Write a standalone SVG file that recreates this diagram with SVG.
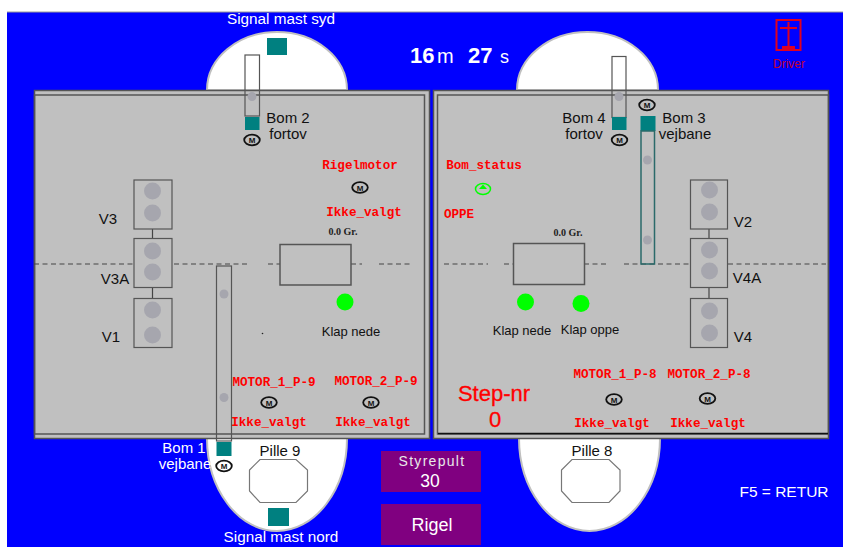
<svg xmlns="http://www.w3.org/2000/svg" xmlns:xlink="http://www.w3.org/1999/xlink" width="843" height="547" viewBox="0 0 843 547">
<style>
text{font-family:"Liberation Sans",Arial,sans-serif}
.w{fill:#fff;font-size:15.3px;text-anchor:middle}
.b{fill:#111;font-size:15px;text-anchor:middle}
.s{fill:#111;font-size:13px;text-anchor:middle}
.r{fill:#f00;font-family:"Liberation Mono","Courier New",monospace;font-size:12.6px;font-weight:bold;text-anchor:middle}
.gr{fill:#222;font-family:"Liberation Serif",serif;font-size:10px;font-weight:bold;text-anchor:middle}
.pier{fill:#fff;stroke:#c0c0c0;stroke-width:2}
.panel{fill:#c0c0c0;stroke:#555;stroke-width:1.5}
.in{fill:none;stroke:#555;stroke-width:1.5}
.sig{fill:#c0c0c0;stroke:#555;stroke-width:1.2}
.lamp{fill:#a6a6ae}
.teal{fill:#008080}
.boom{fill:none;stroke:#555;stroke-width:1.2}
.green{fill:#0f0}
.dash{stroke:#444;stroke-width:1;stroke-dasharray:5 3.5;fill:none}
.oct{fill:#fff;stroke:#777;stroke-width:1.2}
.btn{fill:#800080}
.wire{stroke:#444;stroke-width:1.2}
</style>
<defs>
<g id="mot"><ellipse cx="0" cy="0" rx="7.8" ry="5.3" fill="none" stroke="#111" stroke-width="1.8"/><text x="0" y="3" font-size="8" font-weight="bold" text-anchor="middle" fill="#111">M</text></g>
</defs>
<rect x="0" y="0" width="843" height="547" fill="#fff"/>
<rect x="7" y="12" width="836" height="535" fill="#00f"/>
<line x1="7" y1="12" x2="843" y2="12" stroke="#999" stroke-width="1"/>

<g id="pier-north-left"><path class="pier" d="M207 90A70 58 0 0 1 347 90Z"/></g>
<g id="pier-north-right"><path class="pier" d="M517 90A70.500 58 0 0 1 658 90Z"/></g>
<g id="pier-9"><path class="pier" d="M207 438A70 93 0 0 0 347 438Z"/></g>
<g id="pier-8"><path class="pier" d="M519 438A70.500 93 0 0 0 660 438Z"/></g>

<g id="panel-left"><rect x="34.500" y="90.500" width="395" height="348" class="panel"/><rect x="34.500" y="95" width="390" height="339" class="in"/></g>
<g id="panel-right"><rect x="433.500" y="90.500" width="395" height="348" class="panel"/><rect x="437.500" y="95" width="391" height="339" class="in"/><line x1="438" y1="433.500" x2="828" y2="433.500" stroke="#111" stroke-width="1.500"/></g>

<g id="connectors">
<path class="dash" d="M34 264H134M174 264H250M268 264H280M351 264H362M379 264H413"/>
<path class="dash" d="M444 264H488M504 264H514M584 264H608M624 264H690M728 264H826"/>
<line class="wire" x1="152.500" y1="229" x2="152.500" y2="238"/>
<line class="wire" x1="152.500" y1="288" x2="152.500" y2="298"/>
<line class="wire" x1="709" y1="229" x2="709" y2="238"/>
<line class="wire" x1="709" y1="288" x2="709" y2="298"/>
</g>

<g id="mast-syd"><rect x="267" y="38" width="20" height="17" class="teal"/><text x="281" y="24" class="w">Signal mast syd</text></g>
<g id="mast-nord"><rect x="268" y="508" width="21" height="18" class="teal"/><text x="281" y="542" class="w">Signal mast nord</text></g>
<g id="clock"><text x="410" y="63" fill="#fff" font-size="22" font-weight="bold">16</text><text x="437" y="63" fill="#fff" font-size="20">m</text><text x="468" y="63" fill="#fff" font-size="22" font-weight="bold">27</text><text x="500" y="63" fill="#fff" font-size="18">s</text></g>
<g id="driver" fill="none" stroke="#e00020" stroke-width="2"><rect x="776.500" y="20" width="24" height="30"/><path d="M780 28H797M788.500 22V47"/><path d="M782 48H795" stroke-width="4"/><text x="789" y="68" fill="#c00030" stroke="none" font-size="12" text-anchor="middle">Driver</text></g>

<g id="bom2"><rect x="245" y="55" width="14.500" height="61" class="boom"/><circle cx="252" cy="96.500" r="4.500" class="lamp"/><rect x="245" y="117" width="14.500" height="13" class="teal"/><use xlink:href="#mot" href="#mot" x="252" y="140"/><text x="288" y="123" class="b">Bom 2</text><text x="288" y="139" class="b">fortov</text></g>
<g id="bom4"><rect x="612" y="56.500" width="14" height="61" class="boom"/><circle cx="619" cy="96.500" r="4.500" class="lamp"/><rect x="612" y="117" width="14.500" height="13" class="teal"/><use xlink:href="#mot" href="#mot" x="619.500" y="140"/><text x="584" y="123" class="b">Bom 4</text><text x="584" y="139" class="b">fortov</text></g>
<g id="bom3"><use xlink:href="#mot" href="#mot" x="647" y="105"/><rect x="640.500" y="116" width="15" height="15" class="teal"/><rect x="641" y="131" width="13.500" height="133" fill="none" stroke="#2a6a6a" stroke-width="1.500"/><circle cx="647.500" cy="160" r="4.500" class="lamp"/><circle cx="647.500" cy="240" r="4.500" class="lamp"/><text x="684" y="123" class="b">Bom 3</text><text x="685" y="139" class="b">vejbane</text></g>
<g id="bom1"><rect x="216.500" y="266" width="15" height="175" class="boom"/><circle cx="224" cy="294" r="4.500" class="lamp"/><circle cx="224" cy="397.500" r="4.500" class="lamp"/><rect x="216.500" y="442" width="15" height="14" class="teal"/><use xlink:href="#mot" href="#mot" x="224" y="466"/><text x="184" y="453" fill="#fff" font-size="15" text-anchor="middle">Bom 1</text><text x="185" y="469" fill="#fff" font-size="15" text-anchor="middle">vejbane</text></g>

<g id="v3"><rect x="134" y="180" width="38" height="49" class="sig"/><circle cx="152.500" cy="191" r="8.500" class="lamp"/><circle cx="152.500" cy="213" r="8.500" class="lamp"/><text x="108" y="224" class="b">V3</text></g>
<g id="v3a"><rect x="134" y="238.500" width="38" height="49" class="sig"/><circle cx="152.500" cy="251" r="8.500" class="lamp"/><circle cx="152.500" cy="272" r="8.500" class="lamp"/><text x="115" y="284" class="b">V3A</text></g>
<g id="v1"><rect x="134" y="298.500" width="38" height="49" class="sig"/><circle cx="152.500" cy="310" r="8.500" class="lamp"/><circle cx="152.500" cy="335" r="8.500" class="lamp"/><text x="111" y="342" class="b">V1</text></g>
<g id="v2"><rect x="690.500" y="180" width="37" height="49" class="sig"/><circle cx="709.500" cy="190" r="8.500" class="lamp"/><circle cx="709.500" cy="212" r="8.500" class="lamp"/><text x="743" y="227" class="b">V2</text></g>
<g id="v4a"><rect x="690.500" y="238.500" width="37" height="49" class="sig"/><circle cx="709.500" cy="250" r="8.500" class="lamp"/><circle cx="709.500" cy="271" r="8.500" class="lamp"/><text x="747" y="283" class="b">V4A</text></g>
<g id="v4"><rect x="690.500" y="298.500" width="37" height="49" class="sig"/><circle cx="709.500" cy="311" r="8.500" class="lamp"/><circle cx="709.500" cy="333" r="8.500" class="lamp"/><text x="743" y="342" class="b">V4</text></g>

<g id="rigelmotor"><text x="360" y="169" class="r">Rigelmotor</text><use xlink:href="#mot" href="#mot" x="360" y="187.500"/><text x="364" y="216" class="r">Ikke_valgt</text></g>
<g id="bom-status"><text x="484" y="169" class="r">Bom_status</text><ellipse cx="483" cy="189" rx="7.500" ry="5.500" fill="none" stroke="#0f0" stroke-width="1.500"/><path d="M479 189L483 184.500L487 189Z" fill="#0f0"/><text x="459" y="218" class="r">OPPE</text></g>

<g id="klap-left"><text x="343" y="235" class="gr">0.0 Gr.</text><rect x="280" y="244.500" width="71" height="40.500" class="in" fill="#c0c0c0"/><circle cx="345" cy="302" r="8.500" class="green"/><text x="351" y="336" class="s">Klap nede</text><circle cx="262.500" cy="333.500" r="0.800" fill="#222"/></g>
<g id="klap-right"><text x="568" y="236" class="gr">0.0 Gr.</text><rect x="513.500" y="243.500" width="71" height="41" class="in" fill="#c0c0c0"/><circle cx="525.500" cy="302" r="8.500" class="green"/><circle cx="581" cy="303.500" r="8.500" class="green"/><text x="522" y="335" class="s">Klap nede</text><text x="590" y="334" class="s">Klap oppe</text></g>

<g id="motor-1-p9"><text x="274" y="386" class="r">MOTOR_1_P-9</text><use xlink:href="#mot" href="#mot" x="269" y="402.500"/><text x="269" y="426" class="r">Ikke_valgt</text></g>
<g id="motor-2-p9"><text x="376" y="385" class="r">MOTOR_2_P-9</text><use xlink:href="#mot" href="#mot" x="371" y="402.500"/><text x="373" y="426" class="r">Ikke_valgt</text></g>
<g id="motor-1-p8"><text x="615" y="378" class="r">MOTOR_1_P-8</text><use xlink:href="#mot" href="#mot" x="614" y="399.500"/><text x="612" y="427" class="r">Ikke_valgt</text></g>
<g id="motor-2-p8"><text x="709" y="378" class="r">MOTOR_2_P-8</text><use xlink:href="#mot" href="#mot" x="707.500" y="398.500"/><text x="708" y="427" class="r">Ikke_valgt</text></g>

<g id="step"><text x="494" y="401" fill="#f00" font-size="22" stroke="#f00" stroke-width="0.300" text-anchor="middle">Step-nr</text><text x="495" y="427" fill="#f00" font-size="22" stroke="#f00" stroke-width="0.300" text-anchor="middle">0</text></g>

<g id="pille-9"><text x="280" y="456" class="b">Pille 9</text><path class="oct" d="M260 459.500H296L307.500 470V491L296 502.500H260L249.500 491V470Z"/></g>
<g id="pille-8"><text x="592" y="456" class="b">Pille 8</text><path class="oct" d="M572 459.500H609L620 470V491L609 502.500H572L561.500 491V470Z"/></g>

<g id="styrepult"><rect x="381" y="451" width="100" height="41" class="btn"/><text x="432" y="466" fill="#e8e8e8" font-size="14" letter-spacing="1.300" text-anchor="middle">Styrepult</text><text x="430" y="487" fill="#fff" font-size="17.500" text-anchor="middle">30</text></g>
<g id="rigel"><rect x="381" y="504" width="100" height="41" class="btn"/><text x="432" y="531" fill="#fff" font-size="18" text-anchor="middle">Rigel</text></g>
<g id="f5"><text x="784" y="497" class="w" style="font-size:15.500px">F5 = RETUR</text></g>
</svg>
